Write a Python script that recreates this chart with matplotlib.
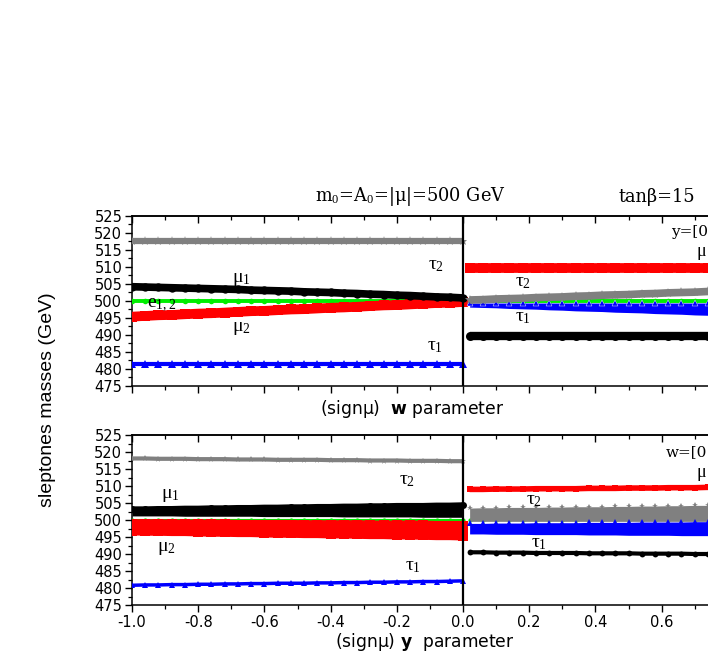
import matplotlib
matplotlib.use('Agg')
import matplotlib.pyplot as plt
from matplotlib.ticker import MultipleLocator, FixedLocator
from matplotlib import font_manager as fm

plt.rcParams['font.family'] = ['DejaVu Sans']
plt.rcParams['mathtext.fontset'] = 'custom'
plt.rcParams['mathtext.rm'] = 'Liberation Serif'
plt.rcParams['mathtext.it'] = 'Liberation Serif:italic'
plt.rcParams['mathtext.bf'] = 'DejaVu Sans:bold'
plt.rcParams['axes.unicode_minus'] = False
plt.rcParams['lines.solid_capstyle'] = 'butt'

# ---------------- data ----------------
xl = [-1.00, -0.96, -0.92, -0.88, -0.84, -0.80, -0.76, -0.72, -0.68, -0.64, -0.60, -0.56, -0.52,
      -0.48, -0.44, -0.40, -0.36, -0.32, -0.28, -0.24, -0.20, -0.16, -0.12, -0.08, -0.04, 0.00]
xr = [0.02, 0.06, 0.10, 0.14, 0.18, 0.22, 0.26, 0.30, 0.34, 0.38, 0.42, 0.46, 0.50,
      0.54, 0.58, 0.62, 0.66, 0.70, 0.74, 0.78, 0.82, 0.86, 0.90, 0.94, 0.98]

# top panel, left half (w parameter)
tau2_tl = [517.5, 517.5, 517.5, 517.5, 517.5, 517.5, 517.5, 517.5, 517.5, 517.5, 517.5, 517.5, 517.5,
           517.5, 517.5, 517.5, 517.5, 517.5, 517.5, 517.5, 517.5, 517.5, 517.5, 517.5, 517.5, 517.5]
mu1_tl = [504.2, 504.1, 504.0, 503.9, 503.8, 503.7, 503.6, 503.5, 503.4, 503.2, 503.1, 503.0, 502.9,
          502.7, 502.6, 502.5, 502.3, 502.2, 502.0, 501.9, 501.7, 501.6, 501.4, 501.2, 501.1, 500.9]
e_tl = [500.0, 500.0, 500.0, 500.0, 500.0, 500.0, 500.0, 500.0, 500.0, 500.0, 500.0, 500.0, 500.0,
        500.0, 500.0, 500.0, 500.0, 500.0, 500.0, 500.0, 500.0, 500.0, 500.0, 500.0, 500.0, 500.0]
mu2_tl = [495.4, 495.6, 495.8, 495.9, 496.1, 496.3, 496.4, 496.6, 496.8, 497.0, 497.1, 497.3, 497.5,
          497.6, 497.8, 498.0, 498.1, 498.3, 498.5, 498.7, 498.8, 499.0, 499.2, 499.4, 499.5, 499.7]
tau1_tl = [481.5, 481.5, 481.5, 481.5, 481.5, 481.5, 481.5, 481.5, 481.5, 481.5, 481.5, 481.5, 481.5,
           481.5, 481.5, 481.5, 481.5, 481.5, 481.5, 481.5, 481.5, 481.5, 481.5, 481.5, 481.5, 481.5]

# top panel, right half
mu1_tr = [509.6, 509.6, 509.6, 509.6, 509.6, 509.6, 509.6, 509.6, 509.6, 509.6, 509.6, 509.6, 509.6,
          509.6, 509.6, 509.6, 509.6, 509.6, 509.6, 509.6, 509.6, 509.6, 509.6, 509.6, 509.6]
tau2_tr = [500.3, 500.4, 500.6, 500.7, 500.8, 501.0, 501.1, 501.2, 501.4, 501.5, 501.7, 501.8, 501.9,
           502.1, 502.2, 502.4, 502.5, 502.6, 502.8, 502.9, 503.1, 503.2, 503.3, 503.5, 503.6]
e_tr = [500.0, 500.0, 500.0, 500.0, 500.0, 500.0, 500.0, 500.0, 500.0, 500.0, 500.0, 500.0, 500.0,
        500.0, 500.0, 500.0, 500.0, 500.0, 500.0, 500.0, 500.0, 500.0, 500.0, 500.0, 500.0]
tau1_tr_hi = [499.4, 499.4, 499.4, 499.4, 499.4, 499.4, 499.4, 499.4, 499.4, 499.4, 499.4, 499.4, 499.4,
              499.4, 499.4, 499.4, 499.4, 499.4, 499.4, 499.4, 499.4, 499.4, 499.4, 499.4, 499.4]
tau1_tr_lo = [498.2, 498.1, 498.0, 497.8, 497.7, 497.6, 497.4, 497.3, 497.1, 497.0, 496.9, 496.7, 496.6,
              496.5, 496.3, 496.2, 496.1, 495.9, 495.8, 495.7, 495.5, 495.4, 495.2, 495.1, 495.0]
mu2_tr = [489.6, 489.6, 489.6, 489.6, 489.6, 489.6, 489.6, 489.6, 489.6, 489.6, 489.6, 489.6, 489.6,
          489.6, 489.6, 489.6, 489.6, 489.6, 489.6, 489.6, 489.6, 489.6, 489.6, 489.6, 489.6]

# bottom panel, left half (y parameter)
tau2_bl = [518.1, 518.1, 518.0, 518.0, 518.0, 517.9, 517.9, 517.9, 517.8, 517.8, 517.8, 517.7, 517.7,
           517.7, 517.7, 517.6, 517.6, 517.6, 517.5, 517.5, 517.5, 517.4, 517.4, 517.4, 517.3, 517.3]
mu1_bl_hi = [503.1, 503.1, 503.2, 503.2, 503.3, 503.3, 503.4, 503.4, 503.5, 503.5, 503.6, 503.6, 503.7,
             503.7, 503.8, 503.8, 503.9, 503.9, 504.0, 504.0, 504.1, 504.1, 504.1, 504.2, 504.2, 504.3]
mu1_bl_lo = [501.2, 501.2, 501.2, 501.2, 501.1, 501.1, 501.1, 501.1, 501.1, 501.1, 501.0, 501.0, 501.0,
             501.0, 501.0, 501.0, 500.9, 500.9, 500.9, 500.9, 500.9, 500.9, 500.8, 500.8, 500.8, 500.8]
e_bl = [500.0, 500.0, 500.0, 500.0, 500.0, 500.0, 500.0, 500.0, 500.0, 500.0, 500.0, 500.0, 500.0,
        500.0, 500.0, 500.0, 500.0, 500.0, 500.0, 500.0, 500.0, 500.0, 500.0, 500.0, 500.0, 500.0]
mu2_bl_hi = [498.8, 498.8, 498.8, 498.7, 498.7, 498.7, 498.7, 498.7, 498.6, 498.6, 498.6, 498.6, 498.6,
             498.5, 498.5, 498.5, 498.5, 498.5, 498.4, 498.4, 498.4, 498.4, 498.4, 498.3, 498.3, 498.3]
mu2_bl_lo = [496.9, 496.8, 496.8, 496.7, 496.7, 496.6, 496.5, 496.5, 496.4, 496.4, 496.3, 496.2, 496.2,
             496.1, 496.1, 496.0, 496.0, 495.9, 495.8, 495.8, 495.7, 495.7, 495.6, 495.5, 495.5, 495.4]
tau1_bl = [480.8, 480.9, 480.9, 481.0, 481.0, 481.1, 481.1, 481.2, 481.2, 481.3, 481.3, 481.4, 481.4,
           481.4, 481.5, 481.5, 481.6, 481.6, 481.7, 481.7, 481.8, 481.8, 481.9, 481.9, 482.0, 482.1]

# bottom panel, right half
mu1_br = [509.0, 509.0, 509.1, 509.1, 509.1, 509.2, 509.2, 509.2, 509.2, 509.3, 509.3, 509.3, 509.4,
          509.4, 509.4, 509.5, 509.5, 509.5, 509.6, 509.6, 509.6, 509.7, 509.7, 509.7, 509.8]
tau2_br_hi = [503.5, 503.6, 503.6, 503.7, 503.7, 503.7, 503.8, 503.8, 503.9, 503.9, 503.9, 504.0, 504.0,
              504.1, 504.1, 504.2, 504.2, 504.3, 504.3, 504.3, 504.4, 504.4, 504.5, 504.5, 504.6]
tau2_br_lo = [499.6, 499.6, 499.6, 499.6, 499.6, 499.6, 499.6, 499.6, 499.6, 499.6, 499.6, 499.6, 499.6,
              499.6, 499.6, 499.6, 499.6, 499.6, 499.6, 499.6, 499.6, 499.6, 499.6, 499.6, 499.6]
e_br = [500.0, 500.0, 500.0, 500.0, 500.0, 500.0, 500.0, 500.0, 500.0, 500.0, 500.0, 500.0, 500.0,
        500.0, 500.0, 500.0, 500.0, 500.0, 500.0, 500.0, 500.0, 500.0, 500.0, 500.0, 500.0]
tau1_br_hi = [499.0, 499.0, 499.1, 499.1, 499.1, 499.2, 499.2, 499.2, 499.2, 499.3, 499.3, 499.3, 499.3,
              499.4, 499.4, 499.4, 499.4, 499.5, 499.5, 499.5, 499.5, 499.6, 499.6, 499.6, 499.7]
tau1_br_lo = [495.9, 495.9, 495.8, 495.8, 495.8, 495.7, 495.7, 495.7, 495.7, 495.6, 495.6, 495.6, 495.5,
              495.5, 495.5, 495.5, 495.4, 495.4, 495.4, 495.3, 495.3, 495.3, 495.2, 495.2, 495.2]
mu2_br = [490.5, 490.5, 490.4, 490.4, 490.4, 490.3, 490.3, 490.3, 490.3, 490.2, 490.2, 490.2, 490.2,
          490.1, 490.1, 490.1, 490.1, 490.0, 490.0, 490.0, 490.0, 489.9, 489.9, 489.9, 489.9]

yticks = [475, 480, 485, 490, 495, 500, 505, 510, 515, 520, 525]
xticks = [-1.0, -0.8, -0.6, -0.4, -0.2, 0.0, 0.2, 0.4, 0.6, 0.8, 1.0]
xtick_labels = ['-1.0', '-0.8', '-0.6', '-0.4', '-0.2', '0.0', '0.2', '0.4', '0.6', '', '']

GRAY, RED, BLUE, GREEN, BLACK = '#808080', '#ff0000', '#0000ff', '#00ee00', '#000000'

# ---------------- figure ----------------
fig = plt.figure(figsize=(7.08, 6.54), dpi=100)
axT = fig.add_axes([132 / 708, 1 - 386 / 654, 662 / 708, 170 / 654])
axB = fig.add_axes([132 / 708, 1 - 605 / 654, 662 / 708, 170 / 654])


def style(ax, show_labels):
    ax.set_xlim(-1, 1)
    ax.set_ylim(475, 525)
    ax.spines['right'].set_visible(False)
    for s in ['left', 'top', 'bottom']:
        ax.spines[s].set_linewidth(1.1)
    ax.axvline(0, color='black', lw=1.6, zorder=20)
    ax.yaxis.set_major_locator(FixedLocator(yticks))
    ax.yaxis.set_minor_locator(MultipleLocator(2.5))
    ax.xaxis.set_major_locator(FixedLocator(xticks))
    ax.xaxis.set_minor_locator(MultipleLocator(0.1))
    ax.tick_params(axis='y', which='major', direction='out', length=5, width=1.0,
                   labelsize=10.5, pad=2)
    ax.tick_params(axis='y', which='minor', direction='out', length=3, width=0.9)
    ax.tick_params(axis='x', which='major', direction='out', length=5, width=1.0,
                   labelsize=10.5, pad=2)
    ax.tick_params(axis='x', which='minor', direction='out', length=3, width=0.9)
    if show_labels:
        ax.set_xticklabels(xtick_labels)
    else:
        ax.tick_params(axis='x', labelbottom=False)
    sec = ax.secondary_xaxis('top')
    sec.xaxis.set_major_locator(FixedLocator(xticks))
    sec.xaxis.set_minor_locator(MultipleLocator(0.1))
    sec.tick_params(which='major', direction='in', length=5, width=1.0, labeltop=False)
    sec.tick_params(which='minor', direction='in', length=3, width=0.9)
    sec.spines['top'].set_linewidth(1.1)


style(axT, False)
style(axB, True)

# ---- top panel, left
axT.plot(xl, tau2_tl, '-', color=GRAY, lw=4.5, zorder=3)
axT.plot(xl, tau2_tl, '*', color=GRAY, ms=6.5, mew=0, zorder=3)
axT.plot(xl, e_tl, '-o', color=GREEN, lw=2.8, ms=4, mew=0, zorder=3)
axT.plot(xl, mu2_tl, 's-', color=RED, lw=7, ms=7, mew=0, zorder=4)
axT.plot(xl, mu1_tl, '-o', color=BLACK, lw=5.5, ms=6, mew=0, zorder=5)
axT.plot(xl, tau1_tl, '-', color=BLUE, lw=3, zorder=5)
axT.plot(xl, tau1_tl, '^', color=BLUE, ms=5.5, mew=0, zorder=5)

# ---- top panel, right
axT.plot(xr, mu1_tr, 's-', color=RED, lw=7, ms=7, mew=0, zorder=4)
axT.plot(xr, e_tr, '-o', color=GREEN, lw=2.8, ms=4, mew=0, zorder=3)
axT.fill_between(xr, tau1_tr_lo, tau1_tr_hi, color=BLUE, lw=0, zorder=4)
axT.plot(xr, tau1_tr_hi, '^', color=BLUE, ms=5, mec='white', mew=0.3, zorder=4)
axT.plot(xr, tau2_tr, '-', color=GRAY, lw=5.5, zorder=5)
axT.plot(xr, tau2_tr, '*', color=GRAY, ms=7.5, mew=0, zorder=5)
axT.plot(xr, mu2_tr, '-o', color=BLACK, lw=6, ms=6.5, mew=0, zorder=5)

# ---- bottom panel, left
axB.plot(xl, tau2_bl, '-', color=GRAY, lw=3, zorder=3)
axB.plot(xl, tau2_bl, '*', color=GRAY, ms=5, mew=0, zorder=3)
axB.fill_between(xl, mu1_bl_lo, mu1_bl_hi, color=BLACK, lw=0, zorder=3)
axB.plot(xl, mu1_bl_hi, 'o-', color=BLACK, lw=4.5, ms=5, mew=0, zorder=3)
axB.plot(xl, e_bl, '-o', color=GREEN, lw=1.5, ms=3, mew=0, zorder=4)
axB.fill_between(xl, mu2_bl_lo, mu2_bl_hi, color=RED, lw=0, zorder=5)
axB.plot(xl, mu2_bl_hi, 's-', color=RED, lw=7, ms=7, mew=0, zorder=5)
axB.plot(xl, mu2_bl_lo, 's-', color=RED, lw=7, ms=7, mew=0, zorder=5)
axB.plot(xl, tau1_bl, '-', color=BLUE, lw=2.5, zorder=5)
axB.plot(xl, tau1_bl, '^', color=BLUE, ms=5, mew=0, zorder=5)

# ---- bottom panel, right
axB.plot(xr, mu1_br, 's-', color=RED, lw=4, ms=4, mew=0, zorder=4)
axB.plot(xr, e_br, '-o', color=GREEN, lw=1.5, ms=3, mew=0, zorder=3)
axB.fill_between(xr, tau2_br_lo, tau2_br_hi, color=GRAY, lw=0, zorder=4)
axB.plot(xr, tau2_br_hi, '*', color=GRAY, ms=4, mew=0, zorder=4)
axB.fill_between(xr, tau1_br_lo, tau1_br_hi, color=BLUE, lw=0, zorder=5)
axB.plot(xr, tau1_br_hi, '^', color=BLUE, ms=4, mew=0, zorder=5)
axB.plot(xr, mu2_br, '-o', color=BLACK, lw=3, ms=4.2, mew=0, zorder=5)

# ---- labels inside panels
lab = dict(fontsize=14, ha='center', va='center', zorder=30)
axT.text(-0.08, 510.8, r'$\mathrm{\tau}_{2}$', **lab)
axT.text(-0.67, 506.6, r'$\mathrm{\mu}_{1}$', **lab)
axT.text(-0.91, 498.9, r'$\mathrm{e}_{1,2}$', **lab)
axT.text(-0.67, 492.3, r'$\mathrm{\mu}_{2}$', **lab)
axT.text(-0.085, 486.9, r'$\mathrm{\tau}_{1}$', **lab)
axT.text(0.18, 505.6, r'$\mathrm{\tau}_{2}$', **lab)
axT.text(0.18, 495.3, r'$\mathrm{\tau}_{1}$', **lab)
axT.text(0.63, 520.3, 'y=[0', fontsize=11, family='DejaVu Serif', ha='left', va='center', zorder=30)
axT.text(0.735, 514.6, 'μ', fontsize=13, family='Liberation Serif', ha='right', va='center', zorder=30)

axB.text(-0.885, 507.4, r'$\mathrm{\mu}_{1}$', **lab)
axB.text(-0.895, 492.0, r'$\mathrm{\mu}_{2}$', **lab)
axB.text(-0.17, 511.8, r'$\mathrm{\tau}_{2}$', **lab)
axB.text(-0.15, 486.6, r'$\mathrm{\tau}_{1}$', **lab)
axB.text(0.215, 506.1, r'$\mathrm{\tau}_{2}$', **lab)
axB.text(0.23, 493.4, r'$\mathrm{\tau}_{1}$', **lab)
axB.text(0.613, 520.0, 'w=[0', fontsize=11, family='DejaVu Serif', ha='left', va='center', zorder=30)
axB.text(0.735, 514.0, 'μ', fontsize=13, family='Liberation Serif', ha='right', va='center', zorder=30)

# ---- figure texts
fig.text(315 / 708, 1 - 197 / 654, r'm$_{\rm 0}$=A$_{\rm 0}$=|μ|=500 GeV', family='DejaVu Serif',
         fontsize=12.8, ha='left', va='center')
fig.text(619 / 708, 1 - 197 / 654, 'tanβ=15', family='DejaVu Serif', fontsize=12.8,
         ha='left', va='center')

fig.text(412 / 708, 1 - 409 / 654, '(signμ)  $\\mathbf{w}$ parameter', fontsize=12.3,
         ha='center', va='center')
fig.text(425 / 708, 1 - 642 / 654, '(signμ) $\\mathbf{y}$  parameter', fontsize=12.3,
         ha='center', va='center')

names = {f.name for f in fm.fontManager.ttflist}
if 'Liberation Sans Narrow' in names:
    yl_fam, yl_size = 'Liberation Sans Narrow', 16.5
else:
    yl_fam, yl_size = 'Liberation Sans', 14
fig.text(48 / 708, 1 - 400 / 654, 'sleptones masses (GeV)', rotation=90, family=yl_fam,
         fontsize=yl_size, ha='center', va='center')

fig.savefig('out.png', dpi=100)
